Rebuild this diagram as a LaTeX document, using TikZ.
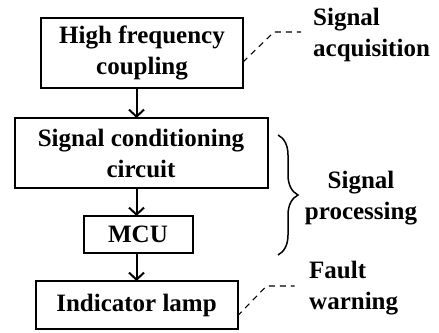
\documentclass[tikz,border=0pt]{standalone}
\usepackage{fontspec}
\setmainfont{Liberation Serif}
\usetikzlibrary{positioning,arrows.meta,decorations.pathreplacing}

\begin{document}
\begin{tikzpicture}[
    x=1pt, y=1pt,
    font=\fontsize{25}{31}\selectfont\bfseries,
    box/.style={draw, line width=2pt, align=center, inner sep=0pt, outer sep=0pt},
    arrow/.style={-{Straight Barb[length=7pt,width=15pt]}, line width=2pt},
    leader/.style={dash pattern=on 6pt off 5pt, line width=1.1pt},
    bracket/.style={decorate, decoration={brace, amplitude=20pt}, line width=1.5pt},
    note/.style={align=left, inner sep=0pt, anchor=north west}
]
    \useasboundingbox (0,0) rectangle (439,-332);

    \node[box, minimum width=202pt, minimum height=70pt] (hf) at (142,-53) {High frequency\\coupling};
    \node[box, minimum width=253pt, minimum height=70pt, below=30pt of hf, xshift=-1pt] (sc) {Signal conditioning\\circuit};
    \node[box, minimum width=109pt, minimum height=37pt, below=28pt of sc, xshift=-3pt] (mcu) {MCU};
    \node[box, minimum width=202pt, minimum height=48pt, below=28pt of mcu, xshift=-1.5pt] (lamp) {Indicator lamp};

    \draw[arrow] (hf.south -| lamp) -- (sc.north -| lamp);
    \draw[arrow] (sc.south -| lamp) -- (mcu.north -| lamp);
    \draw[arrow] (mcu.south -| lamp) -- (lamp.north);

    % side notes
    \node[note] (acq) at (313,-8) {Signal\\acquisition};
    \node[align=center, inner sep=0pt] (proc) at (361,-198) {Signal\\processing};
    \node[note] (warn) at (309,-261) {Fault\\warning};

    \draw[leader] ([yshift=-9pt]hf.east) -- ++(31,30) -- ++(27,0);
    \draw[leader] ([yshift=-11pt]lamp.east) -- ++(29,30) -- ++(28,0);
    \coordinate (btop) at (278,-135);
    \coordinate (bbot) at (278,-255);
    \draw[bracket] (btop) -- (bbot);
\end{tikzpicture}
\end{document}
